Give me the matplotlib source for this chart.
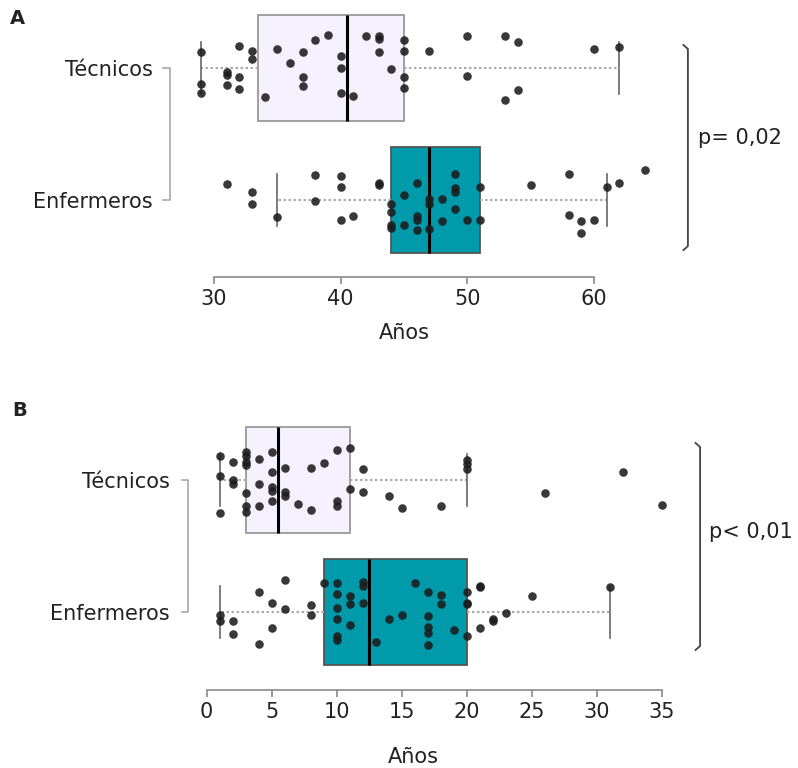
import matplotlib
matplotlib.use('Agg')
import matplotlib.pyplot as plt
import matplotlib.transforms as mtransforms

groups = ['Enfermeros', 'Técnicos']

# Panel A: edad (años)
tec_a_age = [29, 29, 29, 31, 31, 31, 32, 32, 32, 33, 33, 34, 35, 36, 37, 37, 37, 38, 39, 40, 40, 40, 41, 42,
             43, 43, 43, 44, 45, 45, 45, 45, 47, 50, 50, 53, 53, 54, 54, 60, 62]
tec_a_jit = [0.12, -0.12, -0.19, -0.03, -0.05, -0.13, 0.17, -0.07, -0.16, 0.13, 0.07, -0.22, 0.14, 0.04,
             0.12, -0.07, -0.14, 0.21, 0.25, 0.09, 0.0, -0.19, -0.21, 0.24, 0.24, 0.22, 0.12, -0.01,
             0.21, 0.13, -0.07, -0.15, 0.13, 0.24, -0.06, 0.24, -0.24, 0.2, -0.17, 0.14, 0.16]
enf_a_age = [31, 33, 33, 35, 38, 38, 40, 40, 40, 41, 43, 43, 44, 44, 44, 44, 45, 45, 46, 46, 46, 46,
             47, 47, 47, 48, 48, 49, 49, 49, 49, 50, 51, 51, 55, 58, 58, 59, 59, 60, 61, 62, 64]
enf_a_jit = [0.12, 0.06, -0.03, -0.13, 0.19, -0.01, 0.18, 0.10, -0.15, -0.12, 0.13, 0.11, -0.03, -0.09,
             -0.19, -0.21, 0.04, -0.19, 0.13, -0.12, -0.15, -0.23, 0.01, -0.03, -0.22, 0.01, -0.16,
             0.2, 0.09, 0.06, -0.07, -0.15, 0.1, -0.15, 0.11, 0.2, -0.11, -0.16, -0.25, -0.15, 0.1,
             0.13, 0.23]
# q1, mediana, q3, bigote inferior, bigote superior
tec_a_box = [33.5, 40.5, 45, 29, 62]
enf_a_box = [44, 47, 51, 35, 61]

# Panel B: antigüedad (años)
tec_b_age = [1, 1, 1, 2, 2, 2, 3, 3, 3, 3, 3, 3, 3, 4, 4, 4, 5, 5, 5, 5, 5, 6, 6, 6, 7, 8, 8, 9,
             10, 10, 10, 11, 11, 12, 12, 14, 15, 18, 20, 20, 20, 26, 32, 35]
tec_b_jit = [0.18, 0.03, -0.25, 0.14, 0.0, -0.03, 0.21, 0.18, 0.14, 0.11, -0.10, -0.2, -0.24, 0.16,
             -0.03, -0.2, 0.21, 0.06, -0.05, -0.08, -0.16, 0.09, -0.09, -0.12, -0.18, 0.09, -0.23,
             0.13, 0.23, -0.16, -0.2, 0.24, -0.07, 0.08, -0.09, -0.12, -0.21, -0.2, 0.15, 0.12,
             0.08, -0.1, 0.06, -0.19]
enf_b_age = [1, 1, 2, 2, 4, 4, 5, 5, 6, 6, 8, 8, 9, 10, 10, 10, 10, 10, 10, 11, 11, 11, 12, 12, 12,
             13, 14, 15, 16, 17, 17, 17, 17, 17, 18, 18, 19, 20, 20, 20, 20, 21, 21, 21, 22, 22,
             23, 25, 31]
enf_b_jit = [-0.02, -0.07, -0.07, -0.17, 0.15, -0.24, 0.07, -0.12, 0.24, 0.02, 0.05, -0.02, 0.22,
             0.22, 0.14, 0.03, -0.05, -0.18, -0.21, 0.12, 0.06, -0.1, 0.23, 0.2, 0.07, -0.23, -0.05,
             -0.02, 0.22, 0.15, -0.03, -0.11, -0.16, -0.25, 0.13, 0.06, -0.14, 0.15, 0.07, 0.06,
             -0.18, 0.2, 0.19, -0.12, -0.05, -0.07, -0.01, 0.12, 0.19]
tec_b_box = [3, 5.5, 11, 1, 20]
enf_b_box = [9, 12.5, 20, 1, 31]

tec_color = '#f5f1fe'
enf_color = '#009aab'
txt = '#222222'
gray = '#8a8a8a'

plt.rcParams['font.family'] = 'DejaVu Sans'

fig = plt.figure(figsize=(7.98, 7.68), dpi=100)


def stats(b):
    return dict(q1=b[0], med=b[1], q3=b[2], whislo=b[3], whishi=b[4], fliers=[])


def panel(ax, tec_box, enf_box, tec_age, tec_jit, enf_age, enf_jit, xticks, xlim, ylim,
          lbrk, rbrk, ptext, xlab_x, xlab_y, ypad):
    bp = ax.bxp([stats(enf_box), stats(tec_box)], positions=[0, 1], widths=0.8,
                orientation='horizontal', patch_artist=True, showfliers=False,
                capwidths=0.4,
                boxprops=dict(linewidth=1.3),
                medianprops=dict(color='black', linewidth=2.2),
                whiskerprops=dict(color='#aaaaaa', linewidth=1.5, linestyle=(0, (1.2, 1.2))),
                capprops=dict(color='#666666', linewidth=1.2))
    bp['boxes'][0].set_facecolor(enf_color)
    bp['boxes'][0].set_edgecolor('#555555')
    bp['boxes'][1].set_facecolor(tec_color)
    bp['boxes'][1].set_edgecolor('#999999')

    ax.scatter(enf_age, [0 + j for j in enf_jit], s=38, color='#1c1c1c', alpha=0.88,
               linewidths=0, zorder=5)
    ax.scatter(tec_age, [1 + j for j in tec_jit], s=38, color='#1c1c1c', alpha=0.88,
               linewidths=0, zorder=5)

    ax.set_xlim(*xlim)
    ax.set_ylim(*ylim)
    for s in ['top', 'right', 'left']:
        ax.spines[s].set_visible(False)
    ax.spines['bottom'].set_bounds(xticks[0], xticks[-1])
    ax.spines['bottom'].set_color(gray)
    ax.spines['bottom'].set_linewidth(1.2)
    ax.set_xticks(xticks)
    ax.tick_params(axis='x', length=5, width=1.2, color=gray, labelsize=15, labelcolor=txt, pad=4)
    ax.set_yticks([0, 1])
    ax.set_yticklabels(groups)
    ax.tick_params(axis='y', length=0, labelsize=15, labelcolor=txt, pad=ypad)

    # corchete izquierdo
    x0, x1 = lbrk
    ax.plot([x0, x1, x1, x0], [1, 1, 0, 0], color='#a8a8a8', lw=1.2, clip_on=False)
    # corchete derecho
    xr, yt, yb = rbrk
    ax.plot([xr - 0.35, xr, xr, xr - 0.35], [yt, yt - 0.03, yb + 0.03, yb],
            color='#444444', lw=1.3, clip_on=False)
    ax.text(ptext[0], ptext[1], ptext[2], fontsize=15, color=txt, ha='left', va='center')

    tr = mtransforms.blended_transform_factory(ax.transData, ax.transAxes)
    ax.text(xlab_x, xlab_y, 'Años', transform=tr, fontsize=15, color=txt, ha='center', va='center')


ax_a = fig.add_axes([160 / 798, 1 - 277 / 768, 638 / 798, 272 / 768])
panel(ax_a, tec_a_box, enf_a_box, tec_a_age, tec_a_jit, enf_a_age, enf_a_jit,
      [30, 40, 50, 60], (25.74, 76.10), (-0.583, 1.477),
      (25.97, 26.53), (67.41, 1.174, -0.379), (68.2, 0.47, 'p= 0,02'),
      45, -0.206, 5)

ax_b = fig.add_axes([175 / 798, 1 - 690 / 768, 623 / 798, 270 / 768])
panel(ax_b, tec_b_box, enf_b_box, tec_b_age, tec_b_jit, enf_b_age, enf_b_jit,
      [0, 5, 10, 15, 20, 25, 30, 35], (-2.438, 45.48), (-0.591, 1.4545),
      (-1.9, -1.44), (37.95, 1.28, -0.288), (38.65, 0.606, 'p< 0,01'),
      15.9, -0.248, 3.6)

fig.text(10 / 798, 1 - 19 / 768, 'A', fontsize=14, fontweight='bold', color=txt, va='center', ha='left')
fig.text(12 / 798, 1 - 410 / 768, 'B', fontsize=14, fontweight='bold', color=txt, va='center', ha='left')

fig.savefig('out.png', dpi=100)
